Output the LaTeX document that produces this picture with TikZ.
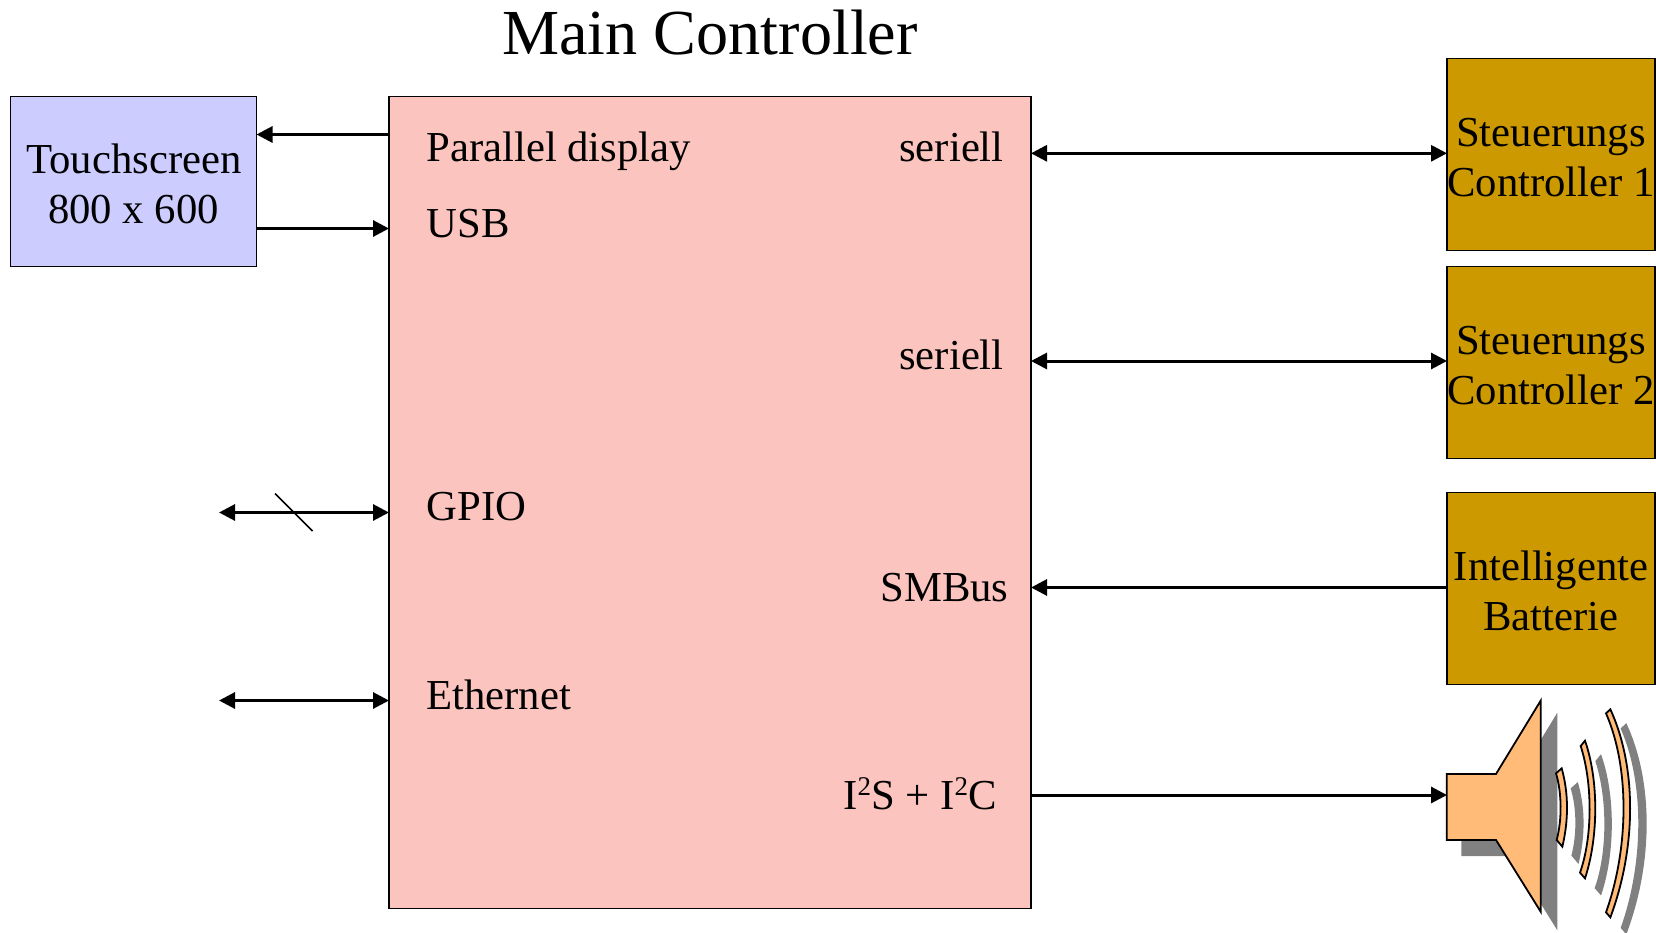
\documentclass[tikz,border=0pt]{standalone}
\usepackage{fontspec}
\setmainfont{Liberation Serif}
\usetikzlibrary{arrows.meta,calc}
\definecolor{mainfill}{HTML}{FCC4BE}
\definecolor{touchfill}{HTML}{CCCCFF}
\definecolor{goldfill}{HTML}{CC9900}
\definecolor{spkfill}{HTML}{FFBB77}
\definecolor{shadowc}{HTML}{808080}
\newcommand{\supn}[1]{\raisebox{13.5pt}{\fontsize{27}{27}\selectfont #1}}
\newcommand{\tstr}{\rule{0pt}{35pt}}
\tikzset{
  lbl/.style={font=\fontsize{42.7}{50}\selectfont, inner sep=0pt, outer sep=0pt, anchor=base west},
  lblr/.style={lbl, anchor=base},
  boxx/.style={draw=black, line width=1.8pt, inner sep=0pt, outer sep=0pt, align=center, font=\fontsize{42.7}{50}\selectfont},
  gold/.style={boxx, fill=goldfill, minimum width=208pt, minimum height=192pt},
  conn/.style={line width=3pt, -{Triangle[length=16pt,width=16pt]}},
  connb/.style={line width=3pt, {Triangle[length=16pt,width=16pt]}-{Triangle[length=16pt,width=16pt]}},
  spk/.style={draw=black, line width=1.8pt, fill=spkfill, line join=miter},
  shd/.style={fill=shadowc, draw=shadowc, line width=1.8pt}
}
\newcommand{\wavea}{(408,280) -- (425,265) .. controls (446,340) and (446,420) .. (427,500) -- (410,480) .. controls (426,420) and (426,340) .. (408,280) -- cycle}
\newcommand{\waveb}{(482,198) -- (495,182) .. controls (536,300) and (536,470) .. (495,595) -- (480,578) .. controls (518,470) and (518,310) .. (482,198) -- cycle}
\newcommand{\wavec}{(558,100) -- (571,88) .. controls (650,260) and (650,500) .. (571,712) -- (558,697) .. controls (628,500) and (628,260) .. (558,100) -- cycle}
\begin{document}
\begin{tikzpicture}[x=1pt,y=-1pt]
\useasboundingbox (0,0) rectangle (1656,933);
% boxes
\node[boxx, fill=mainfill, minimum width=642pt, minimum height=812pt] (main) at (710,502.5) {};
\node[boxx, fill=touchfill, minimum width=246pt, minimum height=170pt] (touch) at (133.5,181.5) {\tstr\hspace{1pt}Touchscreen\\800 x 600};
\node[gold] (c1) at (1551,154.5) {\tstr Steuerungs\\Controller 1};
\node[gold] (c2) at (1551,362.5) {\tstr Steuerungs\\Controller 2};
\node[gold] (bat) at (1551,588.5) {\tstr Intelligente\\Batterie};
% title
\node[font=\fontsize{64.2}{70}\selectfont, inner sep=0pt, anchor=base] (title) at (710,55) {Main Controller};
% labels
\node[lbl] (l1) at (426.5,161.5) {Parallel display};
\node[lbl] (l2) at (426.5,238) {USB};
\node[lbl] (l3) at (426.5,520) {GPIO};
\node[lbl] (l4) at (426.5,709) {Ethernet};
\node[lblr] (r1) at (951.5,161.5) {seriell};
\node[lblr] (r2) at (951.5,369) {seriell};
\node[lblr] (r3) at (944.5,601) {SMBus};
\node[lblr] (r4) at (920,809) {I\supn{2}S + I\supn{2}C};
% free ends
\coordinate (gpioEnd) at (219,512.5);
\coordinate (ethEnd) at (219,700.5);
\coordinate (spkIn) at (1447,795);
% connectors
\draw[conn] (main.west |- 0,134.5) -- (touch.east |- 0,134.5);
\draw[conn] (touch.east |- 0,228.5) -- (main.west |- 0,228.5);
\draw[connb] (gpioEnd) -- (main.west |- gpioEnd);
\draw[connb] (ethEnd) -- (main.west |- ethEnd);
\draw[line width=1.5pt] (275,493.5) -- (312.5,531);
\draw[connb] (main.east |- 0,153.3) -- (c1.west |- 0,153.3);
\draw[connb] (main.east |- 0,361) -- (c2.west |- 0,361);
\draw[conn] (bat.west |- 0,587.5) -- (main.east |- 0,587.5);
\draw[conn] (main.east |- spkIn) -- (spkIn);
% speaker
\begin{scope}[shift={(1420,680)},x=0.33333pt,y=-0.33333pt]
  \begin{scope}[shift={(47,46)}]
    \filldraw[shd] (80,282) -- (228,282) -- (362,62) -- (362,695) -- (228,480) -- (80,480) -- cycle;
    \filldraw[shd] \wavea;
    \filldraw[shd] \waveb;
    \filldraw[shd] \wavec;
  \end{scope}
  \draw[spk] (80,282) -- (228,282) -- (362,62) -- (362,695) -- (228,480) -- (80,480) -- cycle;
  \draw[spk] \wavea;
  \draw[spk] \waveb;
  \draw[spk] \wavec;
\end{scope}
\end{tikzpicture}
\end{document}
